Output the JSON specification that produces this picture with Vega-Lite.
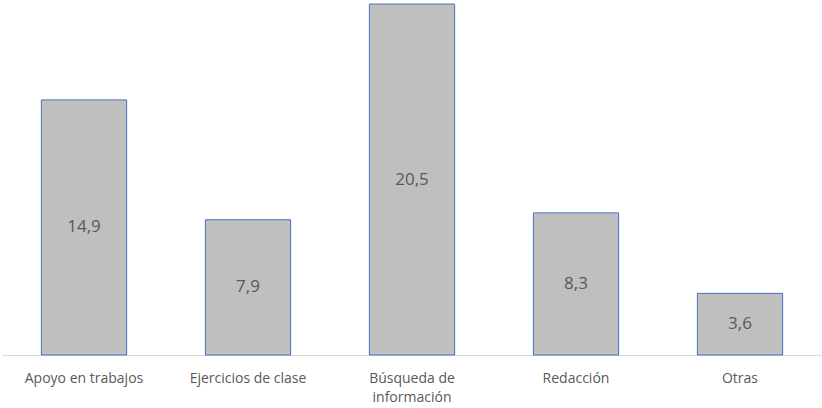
{
  "$schema": "https://vega.github.io/schema/vega-lite/v6.json",
  "width": 820,
  "height": 351,
  "autosize": {"type": "none"},
  "padding": {"left": 2, "top": 4, "right": 0, "bottom": 53},
  "background": "white",
  "config": {
    "view": {"stroke": null},
    "font": "Open Sans",
    "locale": {"number": {"decimal": ",", "thousands": ".", "grouping": [3], "currency": ["", " €"]}}
  },
  "data": {
    "values": [
      {"categoria": "Apoyo en trabajos", "valor": 14.9},
      {"categoria": "Ejercicios de clase", "valor": 7.9},
      {"categoria": "Búsqueda de|información", "valor": 20.5},
      {"categoria": "Redacción", "valor": 8.3},
      {"categoria": "Otras", "valor": 3.6}
    ]
  },
  "encoding": {
    "x": {
      "field": "categoria",
      "type": "nominal",
      "sort": null,
      "scale": {"paddingInner": 0.48, "paddingOuter": 0.24},
      "axis": {
        "title": null,
        "labelAngle": 0,
        "ticks": false,
        "domainColor": "#D9D9D9",
        "labelColor": "#595959",
        "labelFontSize": 14,
        "labelPadding": 16,
        "labelBaseline": "top",
        "labelLineHeight": 19,
        "labelExpr": "split(datum.label, '|')"
      }
    }
  },
  "layer": [
    {
      "mark": {"type": "bar", "fill": "#BFBFBF", "stroke": "#4472C4", "strokeWidth": 1},
      "encoding": {
        "y": {"field": "valor", "type": "quantitative", "scale": {"domain": [0, 20.5], "nice": false}, "axis": null}
      }
    },
    {
      "transform": [{"calculate": "datum.valor / 2", "as": "medio"}],
      "mark": {"type": "text", "color": "#595959", "fontSize": 17, "baseline": "middle"},
      "encoding": {
        "y": {"field": "medio", "type": "quantitative", "scale": {"domain": [0, 20.5], "nice": false}, "axis": null},
        "text": {"field": "valor", "type": "quantitative", "format": ".1f"}
      }
    }
  ]
}
